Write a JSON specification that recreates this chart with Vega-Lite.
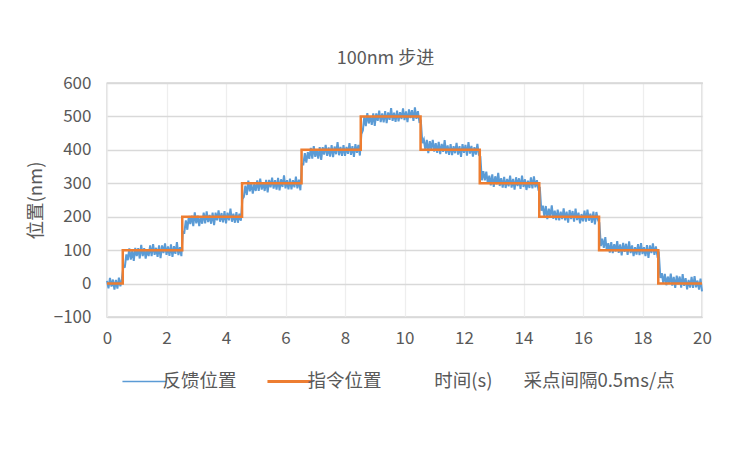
{
  "$schema": "https://vega.github.io/schema/vega-lite/v6.json",
  "width": 595,
  "height": 234,
  "autosize": {"type": "none"},
  "padding": {"left": 107, "top": 83, "right": 50, "bottom": 135},
  "background": "white",
  "title": {
    "text": "100nm 步进",
    "fontSize": 18,
    "fontWeight": "normal",
    "color": "#595959",
    "offset": 6,
    "dx": -19
  },
  "datasets": {
    "fb": [
      {"t":0,"v":8},{"t":0.05,"v":-14},{"t":0.1,"v":17},{"t":0.15,"v":-9},{"t":0.2,"v":12},{"t":0.25,"v":-18},{"t":0.3,"v":11},{"t":0.35,"v":-15},{"t":0.4,"v":18},{"t":0.45,"v":-8},{"t":0.5,"v":14},
      {"t":0.55,"v":49},{"t":0.6,"v":50},{"t":0.65,"v":87},{"t":0.7,"v":70},{"t":0.75,"v":105},{"t":0.8,"v":72},{"t":0.85,"v":99},{"t":0.9,"v":68},{"t":0.95,"v":107},{"t":1,"v":82},
      {"t":1.05,"v":106},{"t":1.1,"v":75},{"t":1.15,"v":116},{"t":1.2,"v":82},{"t":1.25,"v":106},{"t":1.3,"v":75},{"t":1.35,"v":103},{"t":1.4,"v":82},{"t":1.45,"v":114},{"t":1.5,"v":82},
      {"t":1.55,"v":118},{"t":1.6,"v":86},{"t":1.65,"v":107},{"t":1.7,"v":80},{"t":1.75,"v":114},{"t":1.8,"v":76},{"t":1.85,"v":114},{"t":1.9,"v":91},{"t":1.95,"v":120},{"t":2,"v":86},
      {"t":2.05,"v":111},{"t":2.1,"v":83},{"t":2.15,"v":117},{"t":2.2,"v":80},{"t":2.25,"v":112},{"t":2.3,"v":89},{"t":2.35,"v":124},{"t":2.4,"v":85},{"t":2.45,"v":109},{"t":2.5,"v":82},
      {"t":2.55,"v":155},{"t":2.6,"v":153},{"t":2.65,"v":189},{"t":2.7,"v":161},{"t":2.75,"v":202},{"t":2.8,"v":178},{"t":2.85,"v":203},{"t":2.9,"v":172},{"t":2.95,"v":213},{"t":3,"v":180},
      {"t":3.05,"v":203},{"t":3.1,"v":172},{"t":3.15,"v":201},{"t":3.2,"v":179},{"t":3.25,"v":212},{"t":3.3,"v":180},{"t":3.35,"v":216},{"t":3.4,"v":184},{"t":3.45,"v":205},{"t":3.5,"v":179},
      {"t":3.55,"v":212},{"t":3.6,"v":175},{"t":3.65,"v":212},{"t":3.7,"v":189},{"t":3.75,"v":219},{"t":3.8,"v":185},{"t":3.85,"v":211},{"t":3.9,"v":183},{"t":3.95,"v":217},{"t":4,"v":180},
      {"t":4.05,"v":212},{"t":4.1,"v":189},{"t":4.15,"v":224},{"t":4.2,"v":185},{"t":4.25,"v":209},{"t":4.3,"v":182},{"t":4.35,"v":214},{"t":4.4,"v":182},{"t":4.45,"v":209},{"t":4.5,"v":188},
      {"t":4.55,"v":252},{"t":4.6,"v":259},{"t":4.65,"v":293},{"t":4.7,"v":265},{"t":4.75,"v":308},{"t":4.8,"v":276},{"t":4.85,"v":300},{"t":4.9,"v":269},{"t":4.95,"v":298},{"t":5,"v":277},
      {"t":5.05,"v":309},{"t":5.1,"v":277},{"t":5.15,"v":314},{"t":5.2,"v":281},{"t":5.25,"v":303},{"t":5.3,"v":277},{"t":5.35,"v":310},{"t":5.4,"v":273},{"t":5.45,"v":310},{"t":5.5,"v":288},
      {"t":5.55,"v":317},{"t":5.6,"v":284},{"t":5.65,"v":309},{"t":5.7,"v":281},{"t":5.75,"v":316},{"t":5.8,"v":279},{"t":5.85,"v":312},{"t":5.9,"v":289},{"t":5.95,"v":324},{"t":6,"v":285},
      {"t":6.05,"v":309},{"t":6.1,"v":282},{"t":6.15,"v":314},{"t":6.2,"v":282},{"t":6.25,"v":309},{"t":6.3,"v":288},{"t":6.35,"v":320},{"t":6.4,"v":285},{"t":6.45,"v":311},{"t":6.5,"v":279},
      {"t":6.55,"v":358},{"t":6.6,"v":357},{"t":6.65,"v":390},{"t":6.7,"v":362},{"t":6.75,"v":393},{"t":6.8,"v":373},{"t":6.85,"v":406},{"t":6.9,"v":374},{"t":6.95,"v":411},{"t":7,"v":379},
      {"t":7.05,"v":400},{"t":7.1,"v":374},{"t":7.15,"v":408},{"t":7.2,"v":370},{"t":7.25,"v":408},{"t":7.3,"v":386},{"t":7.35,"v":415},{"t":7.4,"v":382},{"t":7.45,"v":407},{"t":7.5,"v":380},
      {"t":7.55,"v":414},{"t":7.6,"v":378},{"t":7.65,"v":410},{"t":7.7,"v":387},{"t":7.75,"v":423},{"t":7.8,"v":384},{"t":7.85,"v":409},{"t":7.9,"v":382},{"t":7.95,"v":414},{"t":8,"v":382},
      {"t":8.05,"v":409},{"t":8.1,"v":388},{"t":8.15,"v":420},{"t":8.2,"v":385},{"t":8.25,"v":411},{"t":8.3,"v":379},{"t":8.35,"v":417},{"t":8.4,"v":391},{"t":8.45,"v":415},{"t":8.5,"v":383},
      {"t":8.55,"v":447},{"t":8.6,"v":458},{"t":8.65,"v":500},{"t":8.7,"v":471},{"t":8.75,"v":510},{"t":8.8,"v":479},{"t":8.85,"v":501},{"t":8.9,"v":475},{"t":8.95,"v":509},{"t":9,"v":472},
      {"t":9.05,"v":509},{"t":9.1,"v":487},{"t":9.15,"v":517},{"t":9.2,"v":483},{"t":9.25,"v":509},{"t":9.3,"v":482},{"t":9.35,"v":516},{"t":9.4,"v":480},{"t":9.45,"v":512},{"t":9.5,"v":490},
      {"t":9.55,"v":525},{"t":9.6,"v":487},{"t":9.65,"v":511},{"t":9.7,"v":484},{"t":9.75,"v":517},{"t":9.8,"v":485},{"t":9.85,"v":513},{"t":9.9,"v":492},{"t":9.95,"v":524},{"t":10,"v":489},
      {"t":10.05,"v":515},{"t":10.1,"v":483},{"t":10.15,"v":521},{"t":10.2,"v":495},{"t":10.25,"v":519},{"t":10.3,"v":487},{"t":10.35,"v":527},{"t":10.4,"v":493},{"t":10.45,"v":516},{"t":10.5,"v":484},
      {"t":10.55,"v":486},{"t":10.6,"v":420},{"t":10.65,"v":431},{"t":10.7,"v":400},{"t":10.75,"v":430},{"t":10.8,"v":390},{"t":10.85,"v":426},{"t":10.9,"v":402},{"t":10.95,"v":430},{"t":11,"v":395},
      {"t":11.05,"v":420},{"t":11.1,"v":391},{"t":11.15,"v":424},{"t":11.2,"v":387},{"t":11.25,"v":418},{"t":11.3,"v":394},{"t":11.35,"v":429},{"t":11.4,"v":389},{"t":11.45,"v":413},{"t":11.5,"v":385},
      {"t":11.55,"v":417},{"t":11.6,"v":384},{"t":11.65,"v":411},{"t":11.7,"v":390},{"t":11.75,"v":421},{"t":11.8,"v":386},{"t":11.85,"v":411},{"t":11.9,"v":379},{"t":11.95,"v":417},{"t":12,"v":391},
      {"t":12.05,"v":415},{"t":12.1,"v":383},{"t":12.15,"v":423},{"t":12.2,"v":389},{"t":12.25,"v":412},{"t":12.3,"v":380},{"t":12.35,"v":408},{"t":12.4,"v":386},{"t":12.45,"v":418},{"t":12.5,"v":385},
      {"t":12.55,"v":380},{"t":12.6,"v":309},{"t":12.65,"v":336},{"t":12.7,"v":309},{"t":12.75,"v":335},{"t":12.8,"v":299},{"t":12.85,"v":323},{"t":12.9,"v":294},{"t":12.95,"v":327},{"t":13,"v":289},
      {"t":13.05,"v":321},{"t":13.1,"v":297},{"t":13.15,"v":331},{"t":13.2,"v":292},{"t":13.25,"v":315},{"t":13.3,"v":287},{"t":13.35,"v":319},{"t":13.4,"v":286},{"t":13.45,"v":313},{"t":13.5,"v":291},
      {"t":13.55,"v":323},{"t":13.6,"v":287},{"t":13.65,"v":313},{"t":13.7,"v":281},{"t":13.75,"v":318},{"t":13.8,"v":292},{"t":13.85,"v":315},{"t":13.9,"v":283},{"t":13.95,"v":323},{"t":14,"v":289},
      {"t":14.05,"v":312},{"t":14.1,"v":280},{"t":14.15,"v":308},{"t":14.2,"v":286},{"t":14.25,"v":318},{"t":14.3,"v":285},{"t":14.35,"v":321},{"t":14.4,"v":288},{"t":14.45,"v":309},{"t":14.5,"v":282},
      {"t":14.55,"v":285},{"t":14.6,"v":218},{"t":14.65,"v":233},{"t":14.7,"v":201},{"t":14.75,"v":232},{"t":14.8,"v":193},{"t":14.85,"v":224},{"t":14.9,"v":200},{"t":14.95,"v":234},{"t":15,"v":194},
      {"t":15.05,"v":218},{"t":15.1,"v":190},{"t":15.15,"v":221},{"t":15.2,"v":189},{"t":15.25,"v":215},{"t":15.3,"v":193},{"t":15.35,"v":225},{"t":15.4,"v":189},{"t":15.45,"v":215},{"t":15.5,"v":182},
      {"t":15.55,"v":220},{"t":15.6,"v":193},{"t":15.65,"v":217},{"t":15.7,"v":185},{"t":15.75,"v":224},{"t":15.8,"v":190},{"t":15.85,"v":212},{"t":15.9,"v":180},{"t":15.95,"v":208},{"t":16,"v":186},
      {"t":16.05,"v":218},{"t":16.1,"v":185},{"t":16.15,"v":221},{"t":16.2,"v":188},{"t":16.25,"v":209},{"t":16.3,"v":182},{"t":16.35,"v":215},{"t":16.4,"v":177},{"t":16.45,"v":214},{"t":16.5,"v":191},
      {"t":16.55,"v":182},{"t":16.6,"v":112},{"t":16.65,"v":134},{"t":16.7,"v":107},{"t":16.75,"v":139},{"t":16.8,"v":98},{"t":16.85,"v":121},{"t":16.9,"v":93},{"t":16.95,"v":124},{"t":17,"v":91},
      {"t":17.05,"v":118},{"t":17.1,"v":96},{"t":17.15,"v":127},{"t":17.2,"v":92},{"t":17.25,"v":117},{"t":17.3,"v":84},{"t":17.35,"v":122},{"t":17.4,"v":95},{"t":17.45,"v":119},{"t":17.5,"v":86},
      {"t":17.55,"v":126},{"t":17.6,"v":91},{"t":17.65,"v":114},{"t":17.7,"v":82},{"t":17.75,"v":109},{"t":17.8,"v":87},{"t":17.85,"v":118},{"t":17.9,"v":85},{"t":17.95,"v":121},{"t":18,"v":88},
      {"t":18.05,"v":109},{"t":18.1,"v":82},{"t":18.15,"v":115},{"t":18.2,"v":77},{"t":18.25,"v":114},{"t":18.3,"v":91},{"t":18.35,"v":120},{"t":18.4,"v":86},{"t":18.45,"v":111},{"t":18.5,"v":83},
      {"t":18.55,"v":89},{"t":18.6,"v":17},{"t":18.65,"v":31},{"t":18.7,"v":0},{"t":18.75,"v":29},{"t":18.8,"v":-5},{"t":18.85,"v":21},{"t":18.9,"v":-1},{"t":18.95,"v":30},{"t":19,"v":-6},
      {"t":19.05,"v":20},{"t":19.1,"v":-13},{"t":19.15,"v":24},{"t":19.2,"v":-2},{"t":19.25,"v":21},{"t":19.3,"v":-12},{"t":19.35,"v":28},{"t":19.4,"v":-7},{"t":19.45,"v":16},{"t":19.5,"v":-17},
      {"t":19.55,"v":11},{"t":19.6,"v":-12},{"t":19.65,"v":20},{"t":19.7,"v":-13},{"t":19.75,"v":22},{"t":19.8,"v":-11},{"t":19.85,"v":9},{"t":19.9,"v":-18},{"t":19.95,"v":15},{"t":20,"v":-23}
    ],
    "cmd": [
      {"t":0,"v":0},{"t":0.53,"v":100},{"t":2.53,"v":200},{"t":4.54,"v":300},{"t":6.54,"v":400},{"t":8.53,"v":500},
      {"t":10.54,"v":400},{"t":12.53,"v":300},{"t":14.53,"v":200},{"t":16.54,"v":100},{"t":18.53,"v":0},{"t":20,"v":0}
    ]
  },
  "encoding": {
    "x": {
      "field": "t",
      "type": "quantitative",
      "scale": {"domain": [0, 20], "nice": false},
      "axis": {
        "values": [0, 2, 4, 6, 8, 10, 12, 14, 16, 18, 20],
        "title": "时间(s)\u3000\u00a0\u00a0\u00a0采点间隔0.5ms/点",
        "titleX": 447,
        "titleY": 63,
        "titleAlign": "center",
        "titleBaseline": "middle",
        "labelPadding": 13,
        "gridColor": "#eeeeee",
        "gridWidth": 1.3
      }
    },
    "y": {
      "field": "v",
      "type": "quantitative",
      "scale": {"domain": [-100, 600], "nice": false},
      "axis": {
        "values": [-100, 0, 100, 200, 300, 400, 500, 600],
        "title": "位置(nm)",
        "titleX": -72,
        "titleY": 117,
        "titleAlign": "center",
        "titleBaseline": "middle",
        "labelPadding": 16,
        "gridColor": "#d9d9d9",
        "gridWidth": 1.3
      }
    }
  },
  "layer": [
    {
      "data": {"name": "fb"},
      "mark": {"type": "line", "strokeWidth": 2, "strokeJoin": "miter"},
      "encoding": {
        "color": {
          "datum": "反馈位置",
          "scale": {"domain": ["反馈位置", "指令位置"], "range": ["#5b9bd5", "#ed7d31"]},
          "legend": {
            "orient": "none",
            "legendX": 28,
            "legendY": 289,
            "direction": "horizontal",
            "title": null,
            "symbolType": "stroke",
            "symbolSize": 1900,
            "symbolStrokeWidth": 1.5,
            "labelFontSize": 18.5,
            "labelColor": "#595959",
            "labelOffset": 9,
            "columnPadding": 24,
            "padding": 0,
            "encode": {
              "symbols": {
                "update": {
                  "strokeWidth": {"signal": "datum.value === '指令位置' ? 3 : 1.5"}
                }
              }
            }
          }
        }
      }
    },
    {
      "data": {"name": "cmd"},
      "mark": {"type": "line", "strokeWidth": 2.5, "interpolate": "step-after"},
      "encoding": {
        "color": {"datum": "指令位置"}
      }
    }
  ],
  "config": {
    "font": "Noto Sans CJK SC",
    "view": {"stroke": "#bfbfbf", "strokeWidth": 1.3},
    "axis": {
      "ticks": false,
      "domain": false,
      "labelFontSize": 17,
      "labelColor": "#595959",
      "labelFlush": false,
      "labelOverlap": false,
      "titleFontSize": 18.5,
      "titleFontWeight": "normal",
      "titleColor": "#595959"
    }
  }
}
